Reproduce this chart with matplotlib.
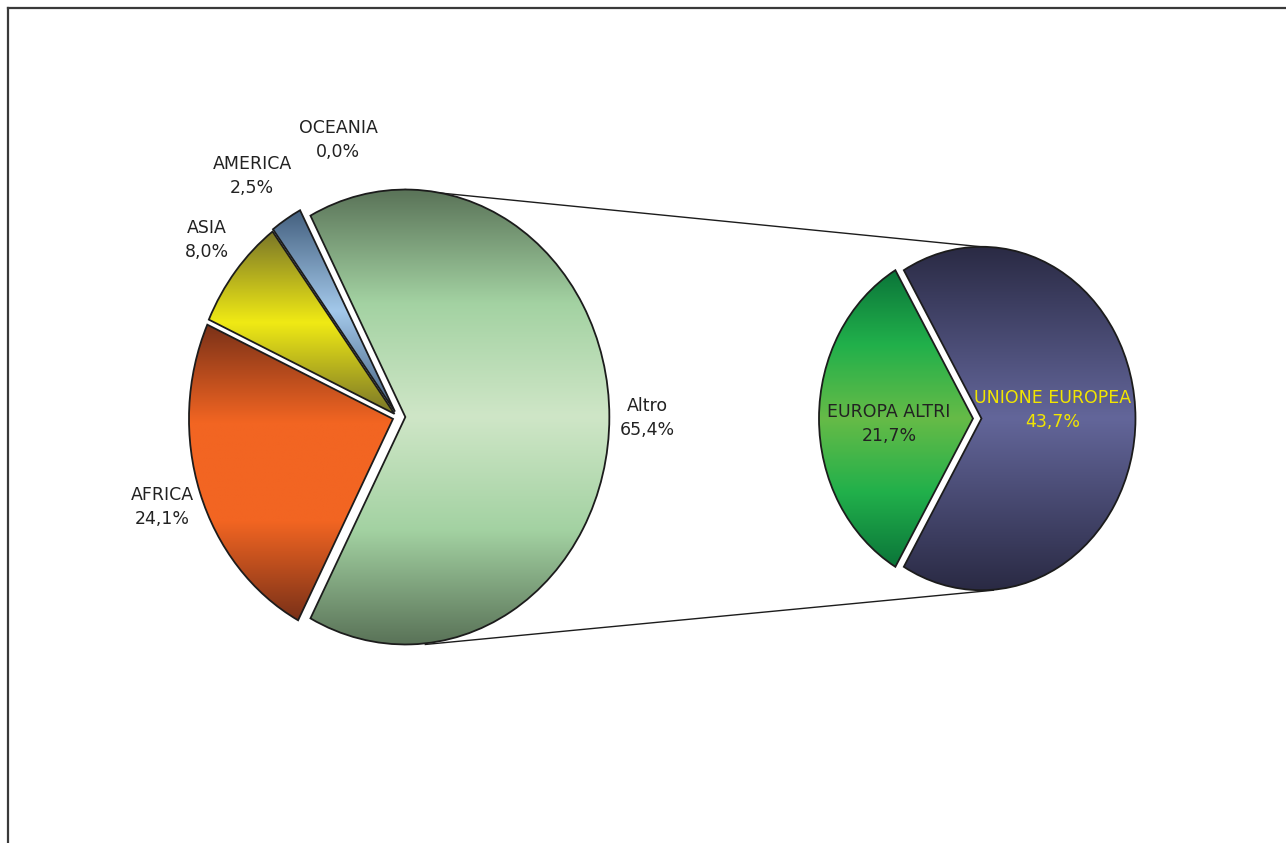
import numpy as np
import matplotlib.pyplot as plt
from matplotlib.colors import LinearSegmentedColormap
from matplotlib.lines import Line2D

# main pie
main_labels = ['Altro', 'OCEANIA', 'AMERICA', 'ASIA', 'AFRICA']
main_values = [65.4, 0.0, 2.5, 8.0, 24.1]
# secondary pie (breakdown of "Altro")
sub_labels = ['UNIONE EUROPEA', 'EUROPA ALTRI']
sub_values = [43.7, 21.7]

# gradient stops (edge -> middle -> edge) for every slice
main_grads = [
    ['#5a7358', '#a3d2a2', '#cfe6c7', '#a3d2a2', '#5a7358'],
    ['#44607f', '#a3c8ea', '#44607f'],
    ['#44607f', '#a3c8ea', '#44607f'],
    ['#7a7628', '#f0ea14', '#7a7628'],
    ['#7a3118', '#f26522', '#f26522', '#7a3118'],
]
sub_grads = [
    ['#2a2a44', '#63669a', '#2a2a44'],
    ['#0b7539', '#21b04b', '#66bb47', '#21b04b', '#0b7539'],
]
# offsets as fraction of the radius
main_explode = [0.036, 0.028, 0.028, 0.022, 0.026]
sub_explode = [0.055, 0.0]

W, H = 1286, 843
S = 1.115  # vertical stretch of the original picture


def py(y):
    return (H - y) / S


fig = plt.figure(figsize=(W / 100, H / 100), dpi=100)
ax = fig.add_axes([0, 0, 1, 1])
ax.set_axis_off()

c1, r1 = (398, py(417)), 204
c2, r2 = (973, py(418.5)), 154

start1 = -main_values[0] / sum(main_values) * 180
start2 = -sub_values[0] / sum(sub_values) * 180

wp = dict(edgecolor='#1c1c1c', linewidth=1.3)
w1, _ = ax.pie(main_values, center=c1, radius=r1, startangle=start1,
               explode=[e * r1 for e in main_explode], wedgeprops=wp, frame=True)
w2, _ = ax.pie(sub_values, center=c2, radius=r2, startangle=start2,
               explode=[e * r2 for e in sub_explode], wedgeprops=wp, frame=True)


def fill_gradient(wedge, stops):
    cmap = LinearSegmentedColormap.from_list('g', stops)
    ext = wedge.get_path().get_extents(wedge.get_patch_transform())
    grad = np.linspace(0, 1, 256).reshape(-1, 1)
    im = ax.imshow(grad, cmap=cmap, aspect='auto', origin='lower',
                   extent=[ext.x0, ext.x1, ext.y0, ext.y1],
                   interpolation='bilinear', zorder=1)
    im.set_clip_path(wedge)
    wedge.set_facecolor('none')
    wedge.set_zorder(2)


for w, v, g in zip(w1, main_values, main_grads):
    if v == 0:
        w.set_visible(False)
        continue
    fill_gradient(w, g)
for w, g in zip(w2, sub_grads):
    fill_gradient(w, g)

# connector lines between the two pies
d1 = main_explode[0] * r1
d2 = sub_explode[0] * r2
ax.plot([c1[0] + d1, c2[0] + d2], [c1[1] + r1, c2[1] + r2],
        color='#1c1c1c', lw=1.0, zorder=0)
ax.plot([c1[0] + d1 + 20, c2[0] + d2 + 12], [c1[1] - r1, c2[1] - r2],
        color='#1c1c1c', lw=1.0, zorder=0)

# data labels
font = dict(fontsize=12.5, family='DejaVu Sans', ha='center', va='center',
            linespacing=1.45, color='#222222')
label_pos = {
    'Altro': (647, 418),
    'OCEANIA': (338, 140),
    'AMERICA': (252, 176),
    'ASIA': (207, 240),
    'AFRICA': (162, 507),
    'UNIONE EUROPEA': (1053, 410),
    'EUROPA ALTRI': (889, 424),
}
for lab, v in zip(main_labels, main_values):
    x, y = label_pos[lab]
    ax.text(x, py(y), f'{lab}\n{v:.1f}%'.replace('.', ','), **font)
for lab, v in zip(sub_labels, sub_values):
    x, y = label_pos[lab]
    col = '#f2e600' if lab == 'UNIONE EUROPEA' else '#222222'
    ax.text(x, py(y), f'{lab}\n{v:.1f}%'.replace('.', ','),
            **{**font, 'color': col})

ax.set_xlim(0, W)
ax.set_ylim(0, H / S)

# chart area frame (top and left borders visible)
fig.add_artist(Line2D([8 / W, 1], [1 - 8 / H, 1 - 8 / H], color='#3a3a3a', lw=1.6))
fig.add_artist(Line2D([8 / W, 8 / W], [0, 1 - 8 / H], color='#3a3a3a', lw=1.6))

fig.savefig('out.png', dpi=100, facecolor='white')
